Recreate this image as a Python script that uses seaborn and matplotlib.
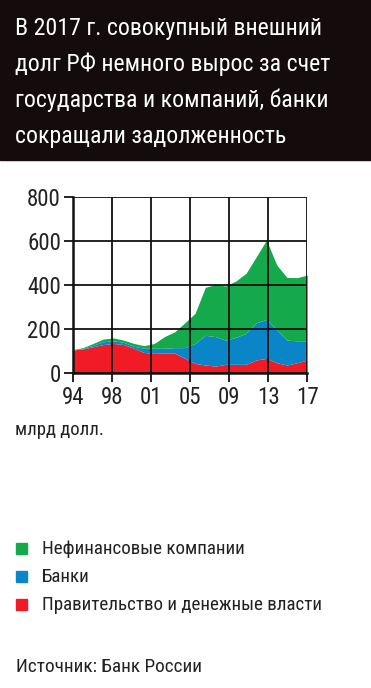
import seaborn as sns
import matplotlib.pyplot as plt
import numpy as np
import pandas as pd

# Values, bn USD
years = list(range(1994, 2018))
government = [103, 108, 118, 128, 133, 128, 111, 92, 88, 89, 89, 65, 42, 35, 30, 38,
              38, 38, 58, 65, 45, 35, 45, 58]
banks_top = [103, 110, 125, 141, 145, 138, 120, 111, 111, 111, 114, 114, 133, 170, 164, 148,
             161, 179, 227, 242, 194, 148, 145, 145]
total = [105, 114, 133, 153, 158, 148, 133, 123, 133, 164, 186, 227, 270, 388, 401, 394,
         417, 452, 527, 603, 490, 433, 432, 444]

df = pd.DataFrame({'year': years, 'gov': government, 'banks_top': banks_top, 'total': total})
df['banks'] = df['banks_top'] - df['gov']
df['corp'] = df['total'] - df['banks_top']

tick_labels = ['94', '98', '01', '05', '09', '13', '17']
legend_labels = ['Нефинансовые компании', 'Банки', 'Правительство и денежные власти']

title_lines = ['В 2017 г. совокупный внешний',
               'долг РФ немного вырос за счет',
               'государства и компаний, банки',
               'сокращали задолженность']

sns.set_theme(style='white')
plt.rcParams['font.family'] = ['Roboto Condensed', 'Roboto', 'DejaVu Sans']

colors = {'corp': '#14a94b', 'banks': '#0a86c8', 'gov': '#f01b24'}

fig = plt.figure(figsize=(3.71, 6.88), dpi=100)

# black title block
fig.patches.append(plt.Rectangle((0, 1 - 160 / 688), 1, 160 / 688, transform=fig.transFigure,
                                 color='#140c0c', zorder=0))
for i, line in enumerate(title_lines):
    fig.text(15 / 371, 1 - (28 + 36 * i) / 688, line, color='white', fontsize=17.2,
             va='center', ha='left')

ax = fig.add_axes([72.7 / 371, 1 - 372.7 / 688, (307.3 - 72.7) / 371, (372.7 - 196.7) / 688])
ax.stackplot(df['year'], df['gov'], df['banks'], df['corp'],
             colors=[colors['gov'], colors['banks'], colors['corp']], linewidth=0, zorder=1)

ax.set_xlim(1994, 2017)
ax.set_ylim(0, 800)
ax.set_xticks(np.linspace(1994, 2017, 7))
ax.set_xticklabels(tick_labels)
ax.set_yticks([0, 200, 400, 600, 800])
ax.grid(True, color='#111111', linewidth=1.3, zorder=2)
ax.set_axisbelow(False)
for s in ['top', 'right']:
    ax.spines[s].set_visible(False)
for s in ['left', 'bottom']:
    ax.spines[s].set_linewidth(1.8)
    ax.spines[s].set_color('#111111')
    ax.spines[s].set_zorder(3)
ax.tick_params(axis='both', length=6.5, width=1.3, color='#111111', labelsize=16.5,
               labelcolor='#222222', bottom=True, left=True, direction='out')
ax.tick_params(axis='y', pad=2)
ax.tick_params(axis='x', pad=3)

fig.text(15 / 371, 1 - 430 / 688, 'млрд долл.', fontsize=13.5, color='#222222', va='center')

# legend squares and labels
leg_y = [549, 577, 605]
for y, lab, key in zip(leg_y, legend_labels, ['corp', 'banks', 'gov']):
    fig.patches.append(plt.Rectangle((16 / 371, 1 - (y + 5) / 688), 11 / 371, 11 / 688,
                                     transform=fig.transFigure, color=colors[key]))
    fig.text(42 / 371, 1 - y / 688, lab, fontsize=13.7, color='#222222', va='center')

fig.text(16 / 371, 1 - 667 / 688, 'Источник: Банк России', fontsize=13.9, color='#222222',
         va='center')

fig.savefig('out.png', dpi=100)
